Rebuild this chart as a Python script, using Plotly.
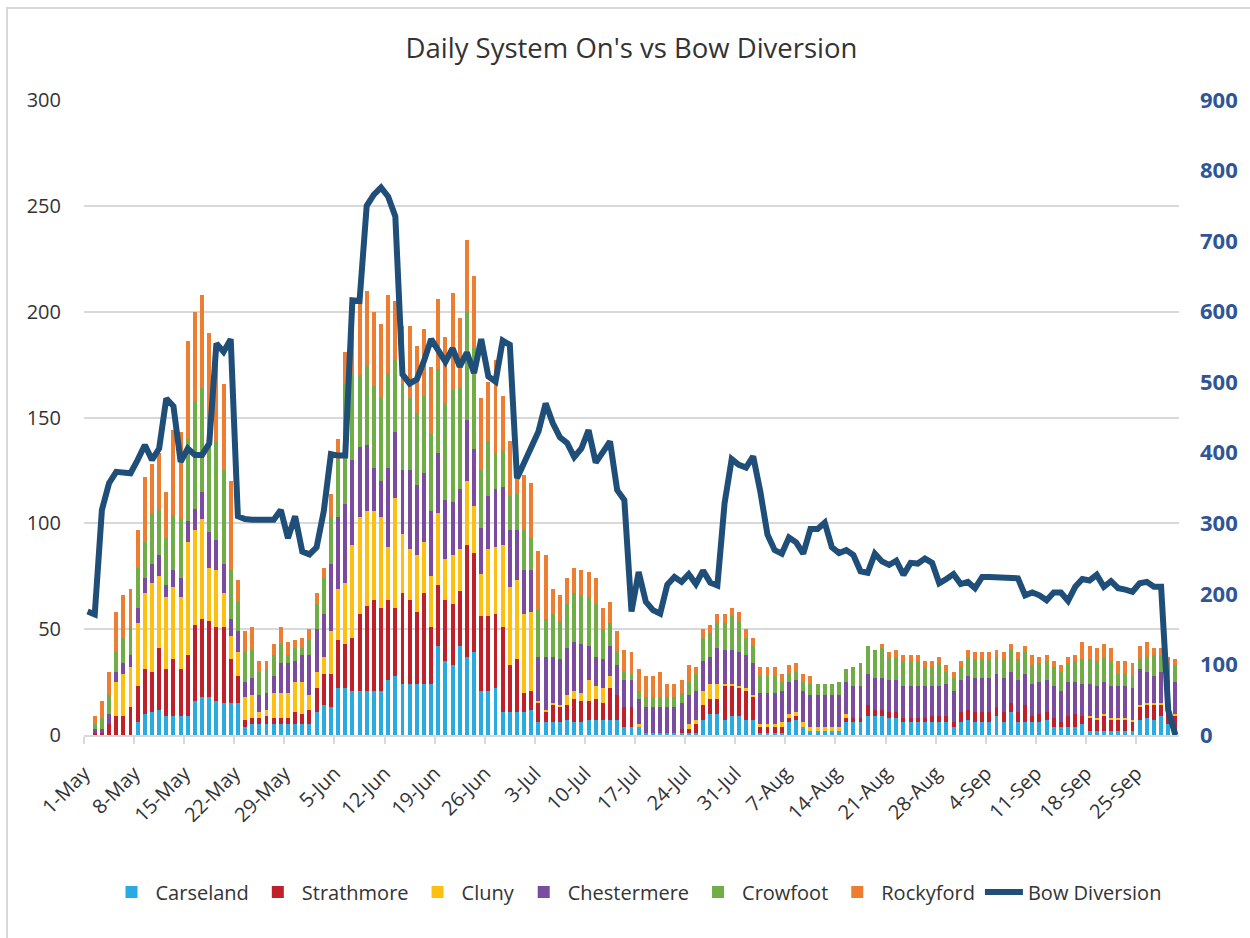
import plotly.graph_objects as go
import pandas as pd

# ---- categories: one bar per day, 1-May .. 30-Sep ----
dates = pd.date_range("2021-05-01", "2021-09-30", freq="D")

carseland = [
    0, 0, 0, 0, 0, 0, 0, 6, 10, 11,
    12, 9, 9, 9, 9, 16, 18, 18, 16, 15,
    15, 15, 4, 5, 5, 5, 5, 5, 5, 5,
    5, 5, 11, 14, 13, 22, 22, 21, 21, 21,
    21, 21, 26, 28, 24, 24, 24, 24, 24, 42,
    35, 33, 42, 37, 39, 21, 21, 22, 11, 11,
    11, 11, 12, 6, 6, 6, 6, 7, 6, 6,
    7, 7, 7, 7, 7, 4, 4, 4, 1, 1,
    1, 1, 1, 1, 1, 1, 7, 10, 10, 7,
    9, 9, 7, 7, 1, 1, 1, 1, 6, 7,
    4, 2, 2, 2, 2, 2, 6, 6, 6, 9,
    9, 9, 8, 8, 6, 6, 6, 6, 6, 6,
    6, 4, 6, 7, 6, 6, 6, 9, 6, 11,
    6, 6, 6, 6, 7, 4, 4, 4, 4, 5,
    2, 2, 2, 2, 2, 2, 2, 7, 8, 7,
    9, 5, 2]

strathmore = [
    0, 1, 1, 5, 9, 9, 13, 17, 21, 19,
    29, 22, 27, 22, 29, 36, 37, 36, 35, 36,
    21, 13, 3, 3, 3, 4, 3, 3, 3, 6,
    5, 7, 11, 15, 16, 23, 21, 25, 36, 40,
    43, 39, 38, 32, 43, 40, 34, 43, 27, 29,
    29, 29, 26, 53, 47, 35, 35, 35, 40, 22,
    25, 9, 9, 9, 5, 8, 7, 7, 11, 10,
    9, 10, 8, 15, 12, 9, 9, 0, 0, 0,
    0, 0, 0, 2, 2, 4, 7, 7, 7, 16,
    14, 13, 14, 11, 3, 3, 3, 3, 2, 2,
    0, 0, 0, 0, 0, 0, 2, 2, 2, 5,
    3, 3, 3, 3, 2, 2, 2, 2, 3, 3,
    3, 2, 5, 5, 5, 5, 5, 4, 5, 4,
    5, 8, 3, 4, 4, 4, 2, 5, 6, 4,
    6, 5, 7, 5, 5, 5, 4, 6, 6, 7,
    5, 5, 7]

cluny = [
    0, 0, 0, 0, 16, 20, 19, 30, 36, 42,
    34, 34, 34, 34, 53, 45, 47, 25, 27, 16,
    11, 11, 11, 11, 3, 3, 12, 12, 12, 14,
    15, 7, 8, 8, 20, 24, 29, 44, 46, 45,
    42, 43, 25, 52, 28, 24, 27, 24, 24, 34,
    19, 23, 20, 30, 22, 20, 32, 32, 39, 37,
    37, 37, 37, 1, 1, 1, 1, 5, 4, 4,
    10, 6, 7, 6, 0, 0, 0, 1, 0, 0,
    0, 0, 0, 0, 2, 2, 7, 7, 7, 1,
    1, 1, 1, 1, 1, 1, 1, 2, 2, 2,
    2, 2, 2, 2, 2, 2, 2, 0, 0, 0,
    0, 0, 0, 0, 0, 0, 0, 0, 0, 0,
    0, 0, 0, 0, 0, 0, 0, 0, 0, 0,
    0, 0, 0, 0, 0, 0, 0, 0, 0, 0,
    1, 1, 1, 1, 1, 1, 1, 1, 1, 1,
    1, 0, 1]

chestermere = [
    0, 2, 2, 5, 5, 5, 6, 7, 7, 9,
    10, 6, 8, 9, 10, 10, 13, 17, 14, 14,
    8, 10, 7, 8, 8, 8, 8, 14, 14, 10,
    13, 19, 20, 20, 32, 34, 37, 40, 33, 31,
    20, 17, 37, 31, 30, 37, 33, 33, 31, 28,
    28, 25, 28, 29, 27, 22, 25, 27, 27, 27,
    24, 21, 20, 21, 25, 22, 22, 22, 23, 23,
    16, 14, 14, 14, 14, 13, 13, 12, 12, 12,
    12, 12, 12, 12, 14, 14, 14, 13, 17, 16,
    16, 16, 16, 15, 15, 15, 15, 15, 15, 15,
    15, 15, 15, 15, 15, 15, 15, 15, 15, 15,
    15, 15, 15, 15, 15, 15, 15, 15, 14, 14,
    15, 15, 15, 16, 16, 16, 16, 16, 16, 15,
    15, 15, 15, 15, 15, 15, 15, 16, 15, 15,
    15, 15, 15, 15, 15, 15, 15, 17, 15, 13,
    15, 16, 15]

crowfoot = [
    0, 2, 5, 9, 9, 12, 13, 19, 17, 24,
    22, 22, 26, 28, 39, 51, 49, 44, 47, 44,
    23, 14, 14, 13, 11, 11, 10, 9, 4, 6,
    3, 7, 12, 17, 22, 27, 57, 41, 34, 38,
    39, 39, 45, 34, 41, 34, 34, 36, 36, 40,
    46, 53, 48, 51, 48, 27, 26, 17, 17, 16,
    17, 19, 15, 22, 18, 20, 18, 21, 23, 23,
    23, 25, 14, 11, 6, 4, 3, 4, 5, 5,
    5, 5, 5, 5, 6, 8, 11, 11, 12, 13,
    16, 15, 8, 8, 8, 8, 8, 4, 4, 4,
    4, 5, 5, 5, 5, 6, 6, 9, 11, 13,
    13, 14, 11, 11, 12, 12, 12, 9, 9, 11,
    6, 6, 6, 9, 9, 9, 9, 8, 9, 10,
    10, 10, 9, 9, 9, 9, 9, 9, 10, 12,
    12, 12, 12, 12, 6, 6, 6, 5, 7, 10,
    8, 8, 8]

rockyford = [
    0, 4, 8, 11, 19, 20, 18, 18, 31, 23,
    26, 22, 40, 41, 46, 42, 44, 50, 45, 41,
    42, 10, 10, 11, 5, 4, 5, 8, 6, 4,
    5, 5, 5, 5, 11, 10, 15, 25, 34, 35,
    35, 35, 37, 28, 27, 34, 32, 32, 32, 33,
    31, 46, 33, 34, 34, 34, 28, 44, 26, 26,
    10, 26, 26, 28, 30, 12, 12, 12, 12, 12,
    12, 12, 10, 10, 10, 10, 10, 10, 10, 10,
    12, 6, 6, 6, 8, 3, 4, 4, 4, 4,
    4, 4, 4, 4, 4, 4, 4, 4, 4, 4,
    4, 4, 0, 0, 0, 0, 0, 0, 0, 0,
    0, 2, 2, 3, 3, 3, 3, 3, 3, 3,
    3, 3, 3, 3, 3, 3, 3, 3, 3, 3,
    3, 3, 5, 3, 3, 3, 3, 3, 3, 8,
    6, 6, 6, 6, 6, 6, 6, 6, 7, 3,
    3, 3, 3]

bow_diversion = [
    175, 171, 319, 357, 373, 372, 371, 390, 411, 390,
    406, 477, 466, 387, 406, 397, 397, 413, 555, 543,
    561, 310, 306, 305, 305, 305, 305, 319, 279, 310,
    260, 256, 266, 317, 398, 396, 396, 616, 615, 750,
    766, 776, 763, 735, 511, 498, 504, 530, 561, 545,
    529, 548, 522, 542, 513, 561, 508, 501, 559, 553,
    364, 386, 409, 430, 470, 442, 422, 414, 394, 406,
    432, 386, 401, 416, 347, 333, 175, 231, 189, 177,
    172, 213, 224, 217, 228, 214, 233, 216, 212, 328,
    391, 383, 379, 395, 345, 284, 262, 257, 280, 273,
    257, 292, 292, 301, 266, 258, 262, 255, 232, 230,
    257, 246, 241, 247, 227, 244, 243, 250, 244, 215,
    221, 228, 214, 217, 208, 224, 224, 224, 223, 222,
    222, 198, 202, 198, 191, 202, 202, 190, 210, 221,
    219, 227, 210, 218, 208, 206, 203, 215, 217, 210,
    210, 35, 0]

series_names = ["Carseland", "Strathmore", "Cluny", "Chestermere", "Crowfoot", "Rockyford"]
series_values = [carseland, strathmore, cluny, chestermere, crowfoot, rockyford]
series_colors = ["#29ABE2", "#C0202A", "#FDBF12", "#7B4BA0", "#70AD47", "#ED7D31"]

n = len(dates)
for s in series_values + [bow_diversion]:
    assert len(s) == n, len(s)

x = list(range(n))
tick_idx = list(range(0, n, 7))
tick_vals = [i - 0.5 for i in tick_idx]
tick_text = [f"{dates[i].day}-{dates[i].strftime('%b')}" for i in tick_idx]

FONT = "Open Sans"
fig = go.Figure()
for name, vals, col in zip(series_names, series_values, series_colors):
    fig.add_trace(go.Bar(x=x, y=vals, name=name, marker=dict(color=col, line=dict(width=0))))

fig.add_trace(go.Scatter(x=x, y=bow_diversion, name="Bow Diversion", yaxis="y2",
                         mode="lines", line=dict(color="#1F4E79", width=6)))

fig.update_layout(
    width=1250, height=938, autosize=False,
    margin=dict(l=84, r=71, t=100, b=203, autoexpand=False),
    paper_bgcolor="white", plot_bgcolor="white",
    barmode="stack", bargap=0.45,
    font=dict(family=FONT, color="#404040"),
    title=dict(text="Daily System On's vs Bow Diversion", x=0.5, xref="paper",
               y=1 - 48 / 938, yanchor="middle",
               font=dict(family=FONT, size=27.5, color="#333333")),
    xaxis=dict(range=[-0.5, n - 0.5], tickmode="array", tickvals=tick_vals, ticktext=tick_text,
               tickangle=-45, ticks="outside", ticklen=7, tickcolor="#D9D9D9", tickwidth=1.5,
               showline=True, linecolor="#D9D9D9", linewidth=1.5, showgrid=False, zeroline=False,
               ticklabelstandoff=10, automargin=False,
               tickfont=dict(family=FONT, size=20, color="#333333")),
    yaxis=dict(range=[0, 300], dtick=50, showgrid=True, gridcolor="#D9D9D9", gridwidth=1.5,
               showline=False, zeroline=False, ticks="", ticklabelstandoff=22, automargin=False,
               tickfont=dict(family=FONT, size=20, color="#333333")),
    yaxis2=dict(range=[0, 900], dtick=100, overlaying="y", side="right", showgrid=False,
                showline=False, zeroline=False, ticks="", ticklabelstandoff=20, automargin=False,
                tickfont=dict(family=FONT, size=22, color="#2F5597", weight="bold")),
    legend=dict(orientation="h", x=(637 - 84) / 1095, xanchor="center",
                y=(735 - 892) / 635, yanchor="middle",
                traceorder="normal", itemwidth=38,
                font=dict(family=FONT, size=20, color="#333333")),
    shapes=[dict(type="rect", xref="paper", yref="paper",
                 x0=(7 - 84) / 1095, x1=1.2, y0=-0.4, y1=(735 - 8) / 635,
                 line=dict(color="#D9D9D9", width=2), fillcolor="rgba(0,0,0,0)", layer="below")],
)

fig.write_html("out.html")
